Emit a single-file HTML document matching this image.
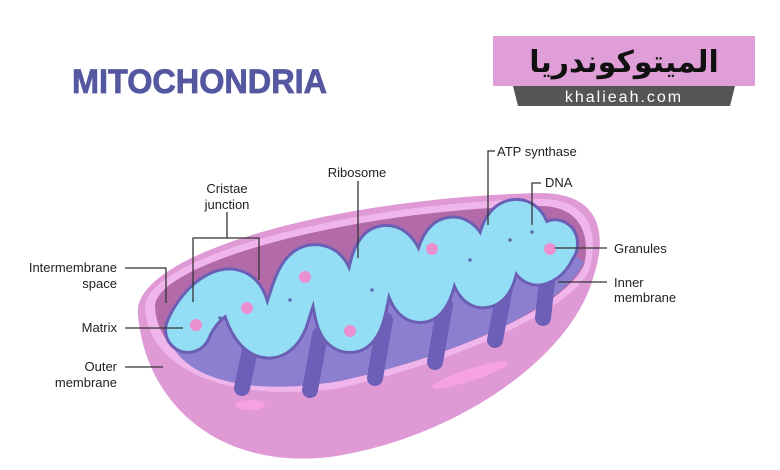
<!DOCTYPE html>
<html><head><meta charset="utf-8"><style>
html,body{margin:0;padding:0;background:#fff;}
svg{display:block;}
text{font-family:"Liberation Sans",sans-serif;}
</style></head><body>
<svg width="780" height="470" viewBox="0 0 780 470" xmlns="http://www.w3.org/2000/svg">
<rect width="780" height="470" fill="#fff"/>
<text x="72" y="93" font-size="34" font-weight="bold" fill="#5558a0" textLength="255" lengthAdjust="spacingAndGlyphs" stroke="#5558a0" stroke-width="0.8">MITOCHONDRIA</text>
<!-- banner -->
<rect x="493" y="36" width="262" height="50" fill="#e09ed8"/>
<text x="624" y="72" font-size="30" font-weight="bold" fill="#111" text-anchor="middle" style='font-family:"DejaVu Sans",sans-serif' direction="rtl">الميتوكوندريا</text>
<polygon points="513,86 735,86 730,106 518,106" fill="#555"/>
<text x="624" y="102" font-size="16" fill="#fff" text-anchor="middle" letter-spacing="2">khalieah.com</text>

<!-- shell -->
<path d="M138,315 C130,255 330,198 540,193 C602,193 607,235 594,275 C572,360 450,440 330,457 C220,470 146,405 138,315 Z" fill="#df9ad5"/>
<path d="M145,308 C143,260 340,203 540,199 C592,199 598,235 590,268 C577,305 470,358 340,388 C220,405 148,365 145,308 Z" fill="#f0b5ea"/>
<path d="M155,307 C153,265 345,210 540,206 C584,206 590,240 584,265 C567,303 470,352 340,381 C225,398 158,360 155,307 Z" fill="#b36aa8"/>
<!-- cristae purple region -->
<path d="M168,335 L200,318 L560,245 L584,262 C567,303 470,352 340,381 C240,398 178,375 168,335 Z" fill="#8d7fd0"/>
<g stroke="#6d5fb8" stroke-width="16" stroke-linecap="round" fill="none">
<path d="M250,350 L242,388"/><path d="M320,335 L310,390"/><path d="M385,320 L375,378"/><path d="M445,305 L435,362"/><path d="M505,288 L495,340"/><path d="M548,272 L543,318"/>
</g>
<!-- matrix tube -->
<g fill="none" stroke-linejoin="round" stroke-linecap="round">
<path d="M188,330 C200,300 235,275 245,305 C255,340 275,345 285,320 C295,290 300,262 320,268 C340,275 330,330 350,330 C370,330 365,250 385,248 C405,246 405,300 420,300 C435,300 435,245 450,240 C470,234 470,290 485,285 C500,280 495,225 515,222 C535,220 525,268 540,262 C555,256 555,235 555,245" stroke="#6a5fb4" stroke-width="48"/>
<path d="M188,330 C200,300 235,275 245,305 C255,340 275,345 285,320 C295,290 300,262 320,268 C340,275 330,330 350,330 C370,330 365,250 385,248 C405,246 405,300 420,300 C435,300 435,245 450,240 C470,234 470,290 485,285 C500,280 495,225 515,222 C535,220 525,268 540,262 C555,256 555,235 555,245" stroke="#94def5" stroke-width="42"/>
</g>
<g fill="#ea8fcf">
<circle cx="196" cy="325" r="6"/><circle cx="247" cy="308" r="6"/><circle cx="305" cy="277" r="6"/><circle cx="350" cy="331" r="6"/><circle cx="432" cy="249" r="6"/><circle cx="550" cy="249" r="6"/>
</g>
<g fill="#5a6fae"><circle cx="220" cy="318" r="1.8"/><circle cx="290" cy="300" r="1.8"/><circle cx="372" cy="290" r="1.8"/><circle cx="470" cy="260" r="1.8"/><circle cx="510" cy="240" r="1.8"/><circle cx="532" cy="232" r="1.8"/></g>
<g fill="#fca3e6" opacity=".8">
<ellipse cx="250" cy="405" rx="15" ry="5"/><ellipse cx="470" cy="375" rx="40" ry="6" transform="rotate(-18 470 375)"/>
</g>
<!-- connectors -->
<g stroke="#333" stroke-width="1.3" fill="none">
<path d="M125,268 H166 V303"/>
<path d="M125,328 H183"/>
<path d="M125,367 H163"/>
<path d="M227,212 V238 M193,302 V238 H259 V280"/>
<path d="M358,181 V258"/>
<path d="M495,151 H488 V225"/>
<path d="M541,183 H532 V225"/>
<path d="M555,248 H607"/>
<path d="M558,282 H607"/>
</g>
<g font-size="13" fill="#222">
<text x="117" y="272" text-anchor="end">Intermembrane</text>
<text x="117" y="288" text-anchor="end">space</text>
<text x="117" y="332" text-anchor="end">Matrix</text>
<text x="117" y="371" text-anchor="end">Outer</text>
<text x="117" y="387" text-anchor="end">membrane</text>
<text x="227" y="193" text-anchor="middle">Cristae</text>
<text x="227" y="209" text-anchor="middle">junction</text>
<text x="357" y="177" text-anchor="middle">Ribosome</text>
<text x="497" y="156">ATP synthase</text>
<text x="545" y="187">DNA</text>
<text x="614" y="253">Granules</text>
<text x="614" y="287">Inner</text>
<text x="614" y="302">membrane</text>
</g>
</svg>
</body></html>
